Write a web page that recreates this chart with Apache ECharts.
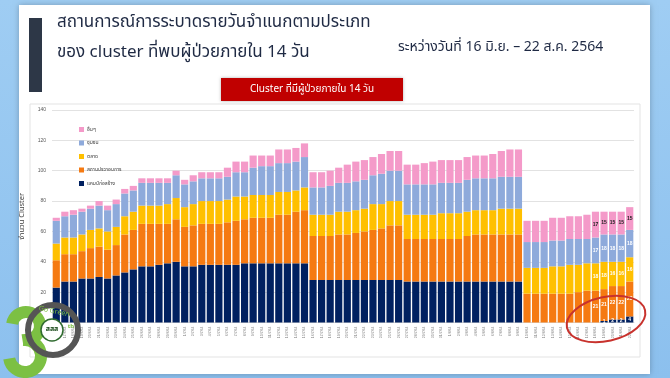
<!DOCTYPE html>
<html>
<head>
<meta charset="utf-8">
<script src="https://cdn.jsdelivr.net/npm/echarts@6/dist/echarts.min.js"></script>
<style>
html, body { margin: 0; padding: 0; }
#chart { width: 670px; height: 378px; }
</style>
</head>
<body>
<div id="chart"></div>
<script>
// วันที่ (16 มิ.ย. - 22 ส.ค. 2564)
var dates = [
  '16/6/64','17/6/64','18/6/64','19/6/64','20/6/64','21/6/64','22/6/64','23/6/64','24/6/64','25/6/64',
  '26/6/64','27/6/64','28/6/64','29/6/64','30/6/64',
  '1/7/64','2/7/64','3/7/64','4/7/64','5/7/64','6/7/64','7/7/64','8/7/64','9/7/64','10/7/64',
  '11/7/64','12/7/64','13/7/64','14/7/64','15/7/64','16/7/64','17/7/64','18/7/64','19/7/64','20/7/64',
  '21/7/64','22/7/64','23/7/64','24/7/64','25/7/64','26/7/64','27/7/64','28/7/64','29/7/64','30/7/64','31/7/64',
  '1/8/64','2/8/64','3/8/64','4/8/64','5/8/64','6/8/64','7/8/64','8/8/64','9/8/64','10/8/64',
  '11/8/64','12/8/64','13/8/64','14/8/64','15/8/64','16/8/64','17/8/64','18/8/64','19/8/64','20/8/64',
  '21/8/64','22/8/64'
];
// แคมป์ก่อสร้าง
var camp = [
  23,27,27,29,29,30,29,31,33,35,37,37,38,39,40,
  37,37,38,38,38,38,38,39,39,39,39,39,39,39,39,
  28,28,28,28,28,28,28,28,28,28,28,
  27,27,27,27,27,27,27,27,27,27,27,27,27,27,
  0,0,0,0,0,0,0,0,0,1,2,2,4
];
// สถานประกอบการ
var factory = [
  18,18,18,18,20,20,19,20,25,26,28,28,27,26,28,
  26,27,27,27,27,28,29,29,30,30,30,32,32,34,35,
  29,29,29,30,30,31,32,33,34,36,36,
  28,28,28,28,28,28,28,30,31,31,31,31,31,31,
  19,19,19,19,19,19,20,21,21,21,22,22,23
];
// ตลาด
var market = [
  11,11,11,11,12,12,12,12,12,12,12,12,12,13,14,
  13,14,15,15,15,15,16,15,15,15,15,15,15,14,15,
  14,14,14,15,15,15,15,17,16,16,16,
  16,16,16,16,17,17,17,16,16,16,16,17,17,17,
  17,17,17,18,18,19,18,18,18,18,16,16,16
];
// ชุมชน
var community = [
  15,14,15,15,14,15,14,15,15,14,15,15,15,14,15,
  15,15,15,15,15,15,16,16,18,19,19,19,19,19,20,
  18,18,19,19,19,19,19,19,20,20,20,
  20,20,20,20,20,20,20,21,21,21,21,21,21,21,
  17,17,17,17,17,17,17,16,17,18,18,18,18
];
// อื่นๆ
var others = [
  2,3,3,2,2,3,3,3,3,3,3,3,3,3,3,
  3,4,4,4,4,6,7,7,8,7,7,9,9,9,9,
  10,10,10,10,12,13,13,12,13,13,13,
  13,13,14,15,15,15,15,15,15,15,16,17,18,18,
  14,14,14,15,15,15,15,16,17,15,15,15,15
];
var seriesNames = ['แคมป์ก่อสร้าง', 'สถานประกอบการ', 'ตลาด', 'ชุมชน', 'อื่นๆ'];
var colors = ['#002060', '#f57a12', '#ffc000', '#8eaadb', '#f49ac9'];
var labelColors = ['#ffffff', '#ffffff', '#ffffff', '#ffffff', '#222222'];
// เฉพาะ 5 วันสุดท้ายมีตัวเลขกำกับ
var labelFrom = 63;

var thaiFont = "'Noto Sans Thai', 'Noto Sans', 'DejaVu Sans', sans-serif";

var chart = echarts.init(document.getElementById('chart'));

var series = [camp, factory, market, community, others].map(function (d, i) {
    return {
        name: seriesNames[i],
        type: 'bar',
        stack: 'total',
        data: d,
        barCategoryGap: '16%',
        itemStyle: { color: colors[i] },
        label: {
            show: true,
            color: labelColors[i],
            fontSize: 5,
            fontWeight: 'bold',
            formatter: function (p) {
                return (p.dataIndex >= labelFrom && p.value > 0) ? p.value : '';
            }
        }
    };
});

var option = {
    animation: false,
    graphic: [
        // พื้นหลังสีฟ้า
        { type: 'rect', z: -10, shape: { x: 0, y: 0, width: 670, height: 378 },
          style: { fill: new echarts.graphic.LinearGradient(0, 0, 0, 1, [
              { offset: 0, color: '#9fcdf3' }, { offset: 1, color: '#8cc0ee' }]) } },
        // แผ่นสไลด์
        { type: 'rect', z: -9, shape: { x: 19, y: 5, width: 631, height: 369 },
          style: { fill: '#ffffff', shadowBlur: 6, shadowColor: 'rgba(0,0,0,0.25)' } },
        // กรอบกราฟ
        { type: 'rect', z: -8, shape: { x: 30, y: 104, width: 610, height: 253 },
          style: { fill: '#ffffff', stroke: '#e3e3e3', lineWidth: 1 } },
        // แถบหัวเรื่อง
        { type: 'rect', z: 5, shape: { x: 29, y: 18, width: 13, height: 74 },
          style: { fill: '#2d3747' } },
        { type: 'text', z: 5, left: 57, top: 15,
          style: { text: 'สถานการณ์การระบาดรายวันจำแนกตามประเภท', fill: '#1f2a44',
                   font: '17px ' + thaiFont } },
        { type: 'text', z: 5, left: 57, top: 45,
          style: { text: 'ของ cluster ที่พบผู้ป่วยภายใน 14 วัน', fill: '#1f2a44',
                   font: '17px ' + thaiFont } },
        { type: 'text', z: 5, left: 398, top: 41,
          style: { text: 'ระหว่างวันที่ 16 มิ.ย. – 22 ส.ค. 2564', fill: '#1f2a44',
                   font: '14px ' + thaiFont } },
        // ป้ายสีแดง
        { type: 'rect', z: 5, shape: { x: 221, y: 78, width: 182, height: 23 },
          style: { fill: '#c00000', shadowBlur: 3, shadowColor: 'rgba(0,0,0,0.3)' } },
        { type: 'text', z: 6, x: 312, y: 89.5,
          style: { text: 'Cluster ที่มีผู้ป่วยภายใน 14 วัน', fill: '#ffffff',
                   font: '10px ' + thaiFont, textAlign: 'center', textVerticalAlign: 'middle' } },
        // วงกลมสีแดง
        { type: 'ellipse', z: 20, x: 606, y: 319, rotation: 0.22,
          shape: { cx: 0, cy: 0, rx: 40, ry: 22 },
          style: { fill: 'none', stroke: '#c8322d', lineWidth: 2 } },
        // โลโก้มุมซ้ายล่าง
        { type: 'arc', z: 20, shape: { cx: 26, cy: 326, r: 14, startAngle: -Math.PI * 0.95, endAngle: Math.PI * 0.55 },
          style: { fill: 'none', stroke: '#7cc043', lineWidth: 12 } },
        { type: 'arc', z: 20, shape: { cx: 25, cy: 356, r: 16, startAngle: -Math.PI * 0.55, endAngle: Math.PI * 0.95 },
          style: { fill: 'none', stroke: '#7cc043', lineWidth: 12 } },
        { type: 'circle', z: 21, shape: { cx: 53, cy: 330, r: 25 },
          style: { fill: 'none', stroke: '#555555', lineWidth: 6 } },
        { type: 'circle', z: 22, shape: { cx: 52, cy: 330, r: 11 },
          style: { fill: '#ffffff', stroke: '#2f6b2f', lineWidth: 1.5 } },
        { type: 'text', z: 23, x: 52, y: 330,
          style: { text: 'สสส', fill: '#1d4d1d', font: 'bold 7px ' + thaiFont,
                   textAlign: 'center', textVerticalAlign: 'middle' } },
        { type: 'text', z: 23, x: 71, y: 327,
          style: { text: 'th', fill: '#7cc043', font: 'bold 6px ' + thaiFont,
                   textAlign: 'center', textVerticalAlign: 'middle' } },
        { type: 'text', z: 23, x: 54, y: 312, rotation: -0.2,
          style: { text: 'Go Green', fill: '#7cc043', font: '7px ' + thaiFont,
                   textAlign: 'center', textVerticalAlign: 'middle' } }
    ],
    legend: {
        data: ['อื่นๆ', 'ชุมชน', 'ตลาด', 'สถานประกอบการ', 'แคมป์ก่อสร้าง'],
        orient: 'vertical',
        left: 74,
        top: 122,
        itemWidth: 5,
        itemHeight: 5,
        itemGap: 8.5,
        icon: 'rect',
        textStyle: { fontSize: 5, color: '#404040', fontFamily: thaiFont, padding: [0, 0, 0, -2] }
    },
    grid: { left: 52, right: 36, top: 110, bottom: 55.5 },
    xAxis: {
        type: 'category',
        data: dates,
        z: 1,
        axisLine: { lineStyle: { color: '#d9d9d9' } },
        axisTick: { show: false },
        axisLabel: { interval: 0, rotate: 90, fontSize: 3.5, color: '#808080', margin: 4 }
    },
    yAxis: {
        type: 'value',
        min: 0,
        max: 140,
        interval: 20,
        z: 1,
        name: 'จำนวน Cluster',
        nameLocation: 'middle',
        nameRotate: 90,
        nameGap: 14,
        nameTextStyle: { fontSize: 7.5, color: '#404040', fontFamily: thaiFont },
        axisLine: { show: false },
        axisTick: { show: false },
        axisLabel: { fontSize: 5, color: '#595959', margin: 6 },
        splitLine: { lineStyle: { color: '#e2e2e2', width: 1 } }
    },
    series: series
};

chart.setOption(option);
</script>
</body>
</html>
